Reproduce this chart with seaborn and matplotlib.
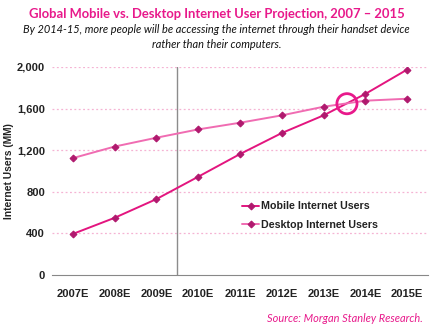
import matplotlib
matplotlib.use("Agg")
import matplotlib.pyplot as plt
import seaborn as sns
import pandas as pd

years = ["2007E", "2008E", "2009E", "2010E", "2011E", "2012E", "2013E", "2014E", "2015E"]
mobile = [395, 550, 730, 945, 1163, 1365, 1535, 1741, 1975]
desktop = [1124, 1235, 1320, 1400, 1464, 1535, 1618, 1676, 1695]
yticks = [0, 400, 800, 1200, 1600, 2000]
ytick_labels = ["0", "400", "800", "1,200", "1,600", "2,000"]

sns.set_style("white")
plt.rcParams["font.family"] = ["Liberation Sans", "DejaVu Sans"]

df = pd.DataFrame({
    "x": list(range(len(years))) * 2,
    "users": mobile + desktop,
    "series": ["Mobile Internet Users"] * len(years) + ["Desktop Internet Users"] * len(years),
})

fig = plt.figure(figsize=(4.33, 3.26), dpi=100)
ax = fig.add_axes([52 / 433, 1 - 275 / 326, (428 - 52) / 433, (275 - 67) / 326])

pal = {"Mobile Internet Users": "#E3157F", "Desktop Internet Users": "#F06CB2"}
for s in ["Mobile Internet Users", "Desktop Internet Users"]:
    sub = df[df.series == s]
    sns.lineplot(data=sub, x="x", y="users", ax=ax, color=pal[s], lw=1.4,
                 marker="D", markersize=3.5, markerfacecolor="#B0196E",
                 markeredgecolor="#B0196E", label=s, sort=False)

for yv in yticks[1:]:
    ax.axhline(yv, color="#F5B3D3", lw=0.9, ls=(0, (1.5, 2)), zorder=0)
ax.plot([2.5, 2.5], [0, 2000], color="#8C8C8C", lw=1.0, zorder=1)

ax.scatter([6.56], [1647], s=210, facecolors="none", edgecolors="#E8198B", linewidths=2, zorder=5)

ax.set_xlim(-0.5, 8.5)
ax.set_ylim(0, 2000)
ax.set_xticks(range(len(years)))
ax.set_xticklabels(years, fontsize=8, fontweight="bold", color="#222222")
ax.set_xticks([i + 0.5 for i in range(-1, len(years))], minor=True)
ax.tick_params(axis="x", which="major", length=0, pad=10)
ax.tick_params(axis="x", which="minor", length=4, color="#888888", direction="in")
ax.set_yticks(yticks)
ax.set_yticklabels(ytick_labels, fontsize=8, fontweight="bold", color="#222222")
ax.tick_params(axis="y", length=0, pad=5)
ax.set_xlabel("")
ax.set_ylabel("Internet Users (MM)", fontsize=7.4, fontweight="bold", color="#222222")
ax.yaxis.set_label_coords(-(52 - 14) / 376, 0.5)
for sp in ["top", "right", "left"]:
    ax.spines[sp].set_visible(False)
ax.spines["bottom"].set_color("#888888")

leg = ax.legend(loc="upper left", bbox_to_anchor=(0.48, 0.40), frameon=False,
                fontsize=7.7, handlelength=1.6, handletextpad=0.2, labelspacing=0.8)
for t in leg.get_texts():
    t.set_fontweight("bold")
    t.set_color("#222222")

fig.text(0.5, 1 - 14 / 326, "Global Mobile vs. Desktop Internet User Projection, 2007 \u2013 2015",
         ha="center", va="center", fontsize=9.4, fontweight="bold", color="#E8198B", family="Lato")
fig.text(0.5, 1 - 37 / 326,
         "By 2014-15, more people will be accessing the internet through their handset device\nrather than their computers.",
         ha="center", va="center", fontsize=7.9, style="italic", color="#111111", family="Lato",
         linespacing=1.35)
fig.text(423 / 433, 1 - 318 / 326, "Source: Morgan Stanley Research.", ha="right", va="center",
         fontsize=7.9, style="italic", color="#E8198B", family="Lato")

fig.savefig("out.png", dpi=100)
